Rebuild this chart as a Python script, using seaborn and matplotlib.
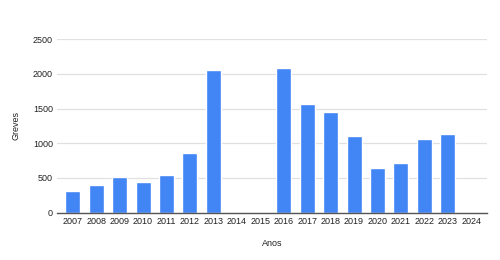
import numpy as np
import pandas as pd
import matplotlib
matplotlib.use("Agg")
import matplotlib.pyplot as plt
import seaborn as sns

anos = ["2007", "2008", "2009", "2010", "2011", "2012", "2013", "2014", "2015",
        "2016", "2017", "2018", "2019", "2020", "2021", "2022", "2023", "2024"]
greves = [310, 400, 515, 440, 545, 866, 2050, np.nan, np.nan,
          2090, 1565, 1445, 1107, 645, 713, 1060, 1132, np.nan]
y_ticks = [0, 500, 1000, 1500, 2000, 2500]

df = pd.DataFrame({"Anos": anos, "Greves": greves})

sns.set_theme(style="white")
plt.rcParams["font.family"] = ["Liberation Sans", "DejaVu Sans"]

fig = plt.figure(figsize=(5, 2.6), dpi=100)
ax = fig.add_axes([0.114, 0.182, 0.86, 0.667])

sns.barplot(data=df, x="Anos", y="Greves", order=anos, color="#4285F4",
            saturation=1, width=0.64, ax=ax)

ax.set_ylim(0, 2500)
ax.set_xlim(-0.67, len(anos) - 0.33)
ax.set_yticks(y_ticks)
ax.set_yticklabels([str(t) for t in y_ticks])
ax.yaxis.grid(True, color="#e0e0e0", linewidth=0.9)
ax.set_axisbelow(True)
for s in ["top", "right", "left"]:
    ax.spines[s].set_visible(False)
ax.spines["bottom"].set_color("#555555")
ax.spines["bottom"].set_linewidth(1.0)
ax.tick_params(axis="both", length=0, labelsize=6.5, colors="#222222", pad=3)
ax.set_xlabel("Anos", fontsize=6.5, color="#222222", labelpad=9.5)
ax.set_ylabel("Greves", fontsize=6.5, color="#222222", labelpad=9)

fig.savefig("out.png", dpi=100, facecolor="white")
